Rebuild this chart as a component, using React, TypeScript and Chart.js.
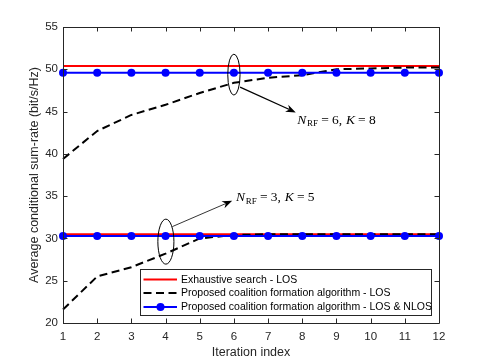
import React, { useEffect, useRef } from "react";
import { Chart, registerables } from "chart.js";

Chart.register(...registerables);

// ---------- Data ----------
const iterations = [1, 2, 3, 4, 5, 6, 7, 8, 9, 10, 11, 12];

// N_RF = 6, K = 8
const exhaustiveLosHigh = [50.4, 50.4, 50.4, 50.4, 50.4, 50.4, 50.4, 50.4, 50.4, 50.4, 50.4, 50.4];
const proposedLosHigh = [39.4, 42.7, 44.6, 45.8, 47.2, 48.4, 49.0, 49.3, 50.0, 50.1, 50.2, 50.2];
const proposedLosNlosHigh = [49.6, 49.6, 49.6, 49.6, 49.6, 49.6, 49.6, 49.6, 49.6, 49.6, 49.6, 49.6];

// N_RF = 3, K = 5
const exhaustiveLosLow = [30.5, 30.5, 30.5, 30.5, 30.5, 30.5, 30.5, 30.5, 30.5, 30.5, 30.5, 30.5];
const proposedLosLow = [21.6, 25.5, 26.6, 28.2, 30.0, 30.4, 30.5, 30.5, 30.5, 30.5, 30.5, 30.5];
const proposedLosNlosLow = [30.3, 30.3, 30.3, 30.3, 30.3, 30.3, 30.3, 30.3, 30.3, 30.3, 30.3, 30.3];

const yTicks = [20, 25, 30, 35, 40, 45, 50, 55];
const xTicks = iterations;

const legendLabels = [
  "Exhaustive search - LOS",
  "Proposed coalition formation algorithm - LOS",
  "Proposed coalition formation algorithm - LOS & NLOS",
];

const xTitle = "Iteration index";
const yTitle = "Average conditional sum-rate (bit/s/Hz)";

// Annotations (data coordinates)
const ellipses = [
  { cx: 6.0, cy: 49.37, rx: 0.18, ry: 2.42 },
  { cx: 4.01, cy: 29.62, rx: 0.235, ry: 2.66 },
];
const arrows = [
  { x0: 6.18, y0: 47.9, x1: 7.81, y1: 44.9, width: 1.3 },
  { x0: 4.2, y0: 31.4, x1: 5.95, y1: 34.45, width: 0.8 },
];
const labels = [
  { x: 7.85, y: 44.1, nrf: "6", k: "8" },
  { x: 6.06, y: 34.9, nrf: "3", k: "5" },
];

// ---------- Styles ----------
const RED = "#ff0000";
const BLUE = "#0000ff";
const BLACK = "#000000";
const AXIS = "#262626";
const SANS = "'Liberation Sans', Arial, Helvetica, sans-serif";
const SERIF = "'Liberation Serif', 'Times New Roman', serif";
const DASH = [8, 4.5];

const toXY = (ys: number[]) => iterations.map((x, i) => ({ x, y: ys[i] }));

const decorPlugin = {
  id: "decor",
  afterDatasetsDraw(chart: any) {
    const { ctx, chartArea: ca, scales } = chart;
    const xs = scales.x;
    const ys = scales.y;
    const px = (v: number) => xs.getPixelForValue(v);
    const py = (v: number) => ys.getPixelForValue(v);

    ctx.save();

    // Frame and inward ticks
    ctx.strokeStyle = AXIS;
    ctx.lineWidth = 1;
    ctx.beginPath();
    ctx.rect(Math.round(ca.left) + 0.5, Math.round(ca.top) + 0.5, Math.round(ca.right - ca.left), Math.round(ca.bottom - ca.top));
    ctx.stroke();
    const tl = 4.5;
    ctx.beginPath();
    yTicks.forEach((t) => {
      const y = Math.round(py(t)) + 0.5;
      ctx.moveTo(ca.left, y);
      ctx.lineTo(ca.left + tl, y);
      ctx.moveTo(ca.right, y);
      ctx.lineTo(ca.right - tl, y);
    });
    xTicks.forEach((t) => {
      const x = Math.round(px(t)) + 0.5;
      ctx.moveTo(x, ca.bottom);
      ctx.lineTo(x, ca.bottom - tl);
      ctx.moveTo(x, ca.top);
      ctx.lineTo(x, ca.top + tl);
    });
    ctx.stroke();

    // Ellipses
    ctx.strokeStyle = BLACK;
    ctx.lineWidth = 1;
    ellipses.forEach((e) => {
      const cx = px(e.cx);
      const cy = py(e.cy);
      const rx = Math.abs(px(e.cx + e.rx) - cx);
      const ry = Math.abs(py(e.cy + e.ry) - cy);
      ctx.beginPath();
      ctx.ellipse(cx, cy, rx, ry, 0, 0, Math.PI * 2);
      ctx.stroke();
    });

    // Arrows
    arrows.forEach((a) => {
      const x0 = px(a.x0), y0 = py(a.y0), x1 = px(a.x1), y1 = py(a.y1);
      const ang = Math.atan2(y1 - y0, x1 - x0);
      const hl = 10, hw = 3.8, back = 7;
      ctx.strokeStyle = BLACK;
      ctx.lineWidth = a.width;
      ctx.beginPath();
      ctx.moveTo(x0, y0);
      ctx.lineTo(x1 - Math.cos(ang) * back, y1 - Math.sin(ang) * back);
      ctx.stroke();
      ctx.fillStyle = BLACK;
      ctx.beginPath();
      ctx.moveTo(x1, y1);
      ctx.lineTo(x1 - Math.cos(ang) * hl + Math.sin(ang) * hw, y1 - Math.sin(ang) * hl - Math.cos(ang) * hw);
      ctx.lineTo(x1 - Math.cos(ang) * back, y1 - Math.sin(ang) * back);
      ctx.lineTo(x1 - Math.cos(ang) * hl - Math.sin(ang) * hw, y1 - Math.sin(ang) * hl + Math.cos(ang) * hw);
      ctx.closePath();
      ctx.fill();
    });

    // Math labels
    ctx.fillStyle = BLACK;
    ctx.textBaseline = "alphabetic";
    ctx.textAlign = "left";
    labels.forEach((l) => {
      let x = px(l.x);
      const base = py(l.y) + 4.5;
      const parts: [string, string, number, number][] = [
        ["N", `italic 13.5px ${SERIF}`, 0, 0.8],
        ["RF", `9px ${SERIF}`, 2.5, 3.2],
        ["=", `13.5px ${SERIF}`, 0, 3.2],
        [l.nrf + ",", `13.5px ${SERIF}`, 0, 3.8],
        ["K", `italic 13.5px ${SERIF}`, 0, 3.2],
        ["=", `13.5px ${SERIF}`, 0, 3.2],
        [l.k, `13.5px ${SERIF}`, 0, 0],
      ];
      parts.forEach(([t, f, dy, gap]) => {
        ctx.font = f;
        ctx.fillText(t, x, base + dy);
        x += ctx.measureText(t).width + gap;
      });
    });

    // Legend
    const lx = 140.5, ly = 269.5, lw = 291, lh = 46;
    ctx.fillStyle = "#ffffff";
    ctx.fillRect(lx, ly, lw, lh);
    ctx.strokeStyle = AXIS;
    ctx.lineWidth = 1;
    ctx.strokeRect(lx, ly, lw, lh);
    const rows = [279.5, 293, 307];
    const styles = [
      { color: RED, dash: [] as number[], marker: false },
      { color: BLACK, dash: DASH, marker: false },
      { color: BLUE, dash: [] as number[], marker: true },
    ];
    rows.forEach((y, i) => {
      const s = styles[i];
      ctx.strokeStyle = s.color;
      ctx.lineWidth = 2;
      ctx.setLineDash(s.dash);
      ctx.beginPath();
      ctx.moveTo(143.5, y);
      ctx.lineTo(177, y);
      ctx.stroke();
      ctx.setLineDash([]);
      if (s.marker) {
        ctx.fillStyle = s.color;
        ctx.beginPath();
        ctx.arc(160.5, y, 4, 0, Math.PI * 2);
        ctx.fill();
      }
      ctx.fillStyle = BLACK;
      ctx.font = `10.5px ${SANS}`;
      ctx.textBaseline = "middle";
      ctx.fillText(legendLabels[i], 181, y + 0.5);
    });

    ctx.restore();
  },
};

export default function App() {
  const canvasRef = useRef<HTMLCanvasElement | null>(null);

  useEffect(() => {
    const canvas = canvasRef.current;
    if (!canvas) return;

    const line = (data: number[], color: string, order: number, extra: any = {}) => ({
      data: toXY(data),
      borderColor: color,
      backgroundColor: color,
      borderWidth: 2,
      pointRadius: 0,
      tension: 0,
      clip: false,
      order,
      ...extra,
    });

    const chart = new Chart(canvas, {
      type: "line",
      data: {
        datasets: [
          line(exhaustiveLosHigh, RED, 3, { label: legendLabels[0] }),
          line(proposedLosHigh, BLACK, 2, { label: legendLabels[1], borderDash: DASH }),
          line(proposedLosNlosHigh, BLUE, 1, { label: legendLabels[2], pointRadius: 4, pointBorderWidth: 0 }),
          line(exhaustiveLosLow, RED, 3, { label: legendLabels[0] }),
          line(proposedLosLow, BLACK, 2, { label: legendLabels[1], borderDash: DASH }),
          line(proposedLosNlosLow, BLUE, 1, { label: legendLabels[2], pointRadius: 4, pointBorderWidth: 0 }),
        ],
      },
      options: {
        responsive: false,
        animation: false,
        devicePixelRatio: 1,
        layout: { padding: { left: 0, top: 27, right: 46, bottom: 0 } },
        plugins: { legend: { display: false }, tooltip: { enabled: false } },
        scales: {
          x: {
            type: "linear",
            min: 1,
            max: 12,
            afterFit: (s: any) => {
              s.height = 40;
            },
            afterBuildTicks: (s: any) => {
              s.ticks = xTicks.map((v) => ({ value: v }));
            },
            grid: { display: false, drawTicks: false },
            border: { display: false },
            ticks: {
              color: AXIS,
              font: { family: SANS, size: 11.5 },
              padding: 7,
              maxRotation: 0,
              autoSkip: false,
            },
            title: {
              display: true,
              text: xTitle,
              color: AXIS,
              font: { family: SANS, size: 12.5 },
              padding: { top: 0, bottom: 3 },
            },
          },
          y: {
            type: "linear",
            min: 20,
            max: 55,
            afterFit: (s: any) => {
              s.width = 63;
            },
            afterBuildTicks: (s: any) => {
              s.ticks = yTicks.map((v) => ({ value: v }));
            },
            grid: { display: false, drawTicks: false },
            border: { display: false },
            ticks: {
              color: AXIS,
              font: { family: SANS, size: 11.5 },
              padding: 5,
              autoSkip: false,
            },
            title: {
              display: true,
              text: yTitle,
              color: AXIS,
              font: { family: SANS, size: 12.5 },
              padding: { top: 27, bottom: 0 },
            },
          },
        },
      },
      plugins: [decorPlugin],
    });

    return () => chart.destroy();
  }, []);

  return (
    <div style={{ position: "absolute", left: 0, top: 0, width: 485, height: 363, background: "#ffffff" }}>
      <canvas ref={canvasRef} width={485} height={363} style={{ display: "block" }} />
    </div>
  );
}
